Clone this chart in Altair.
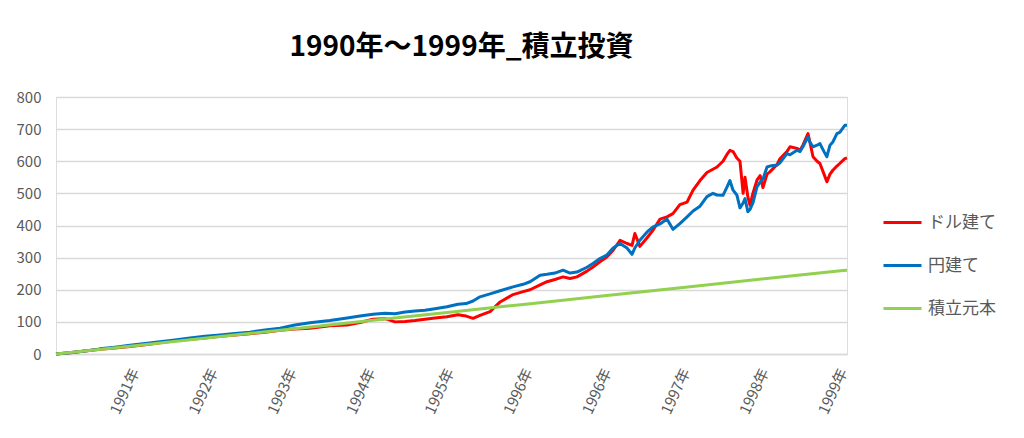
import altair as alt
import pandas as pd

FONT = "Noto Sans CJK JP"

# trading-day index of each sample
days = [0, 44, 92, 140, 187, 235, 283, 330, 378, 426, 473, 521, 569, 616, 664, 712,
        759, 807, 870, 925, 966, 1007, 1045, 1077, 1109, 1141, 1172, 1204, 1242, 1277,
        1303, 1325, 1347, 1379, 1411, 1452, 1484, 1506, 1538, 1560, 1585, 1611, 1633,
        1655, 1687, 1706, 1728, 1750, 1770, 1792, 1814, 1830, 1839, 1855, 1878, 1897,
        1919, 1941, 1960, 1982, 2005, 2024, 2046, 2068, 2087, 2100, 2119, 2132, 2141,
        2151, 2163, 2173, 2183, 2189, 2198, 2205, 2214, 2227, 2237, 2246, 2259, 2268,
        2291, 2300, 2322, 2332, 2354, 2364, 2373, 2389, 2395, 2405, 2418, 2427, 2440,
        2449, 2459, 2468, 2481, 2490, 2506, 2513]

dollar = [0, 4, 9, 15, 19, 23, 29, 35, 41, 46, 50, 55, 59, 63, 68, 74,
          78, 80, 88, 90, 98, 108, 110, 100, 101, 104, 108, 112, 116, 122,
          118, 111, 120, 132, 162, 185, 194, 200, 215, 225, 232, 240, 235,
          240, 258, 271, 287, 302, 323, 354, 344, 338, 375, 335, 362, 386,
          420, 427, 437, 465, 473, 510, 540, 565, 575, 582, 600, 622, 634,
          630, 610, 600, 500, 550, 489, 463, 500, 541, 555, 518, 560, 567,
          590, 608, 630, 645, 640, 634, 650, 686, 660, 614, 600, 593, 560,
          536, 560, 572, 585, 593, 608, 610]

yen = [0, 4, 9, 16, 21, 27, 33, 38, 44, 50, 55, 59, 64, 68, 75, 80,
       90, 97, 104, 112, 118, 124, 127, 125, 131, 134, 136, 141, 147, 155,
       157, 165, 178, 187, 197, 209, 217, 225, 245, 248, 252, 261, 252,
       255, 270, 282, 297, 308, 330, 344, 330, 310, 330, 354, 380, 396,
       405, 420, 388, 406, 427, 445, 460, 490, 500, 495, 494, 520, 540,
       510, 495, 455, 470, 484, 443, 450, 470, 520, 535, 545, 582, 585,
       588, 595, 624, 620, 634, 630, 645, 676, 660, 645, 650, 655, 630,
       614, 650, 660, 686, 690, 712, 712]

principal_days = [0, 250, 500, 750, 1000, 1250, 1500, 1750, 2000, 2250, 2500, 2513]
principal = [0, 26, 52, 78, 104, 130, 156, 182, 208, 234, 260, 261]

tick_days = [250, 500, 750, 1000, 1250, 1500, 1750, 2000, 2250, 2500]
tick_labels = ["1991年", "1992年", "1993年", "1994年", "1995年",
               "1996年", "1996年", "1997年", "1998年", "1999年"]

y_ticks = [0, 100, 200, 300, 400, 500, 600, 700, 800]

series_names = ["ドル建て", "円建て", "積立元本"]
series_colors = ["#FF0000", "#0070C0", "#92D050"]

df = pd.concat([
    pd.DataFrame({"day": days, "value": dollar, "series": series_names[0], "ord": 0}),
    pd.DataFrame({"day": days, "value": yen, "series": series_names[1], "ord": 1}),
    pd.DataFrame({"day": principal_days, "value": principal, "series": series_names[2], "ord": 2}),
], ignore_index=True)

label_array = "[" + ",".join("'" + s + "'" for s in tick_labels) + "]"
label_expr = label_array + "[round(datum.value / 250) - 1]"

chart = alt.Chart(df).mark_line(strokeWidth=3, strokeJoin="round").encode(
    x=alt.X("day:Q",
            scale=alt.Scale(domain=[0, 2513], nice=False, zero=False),
            axis=alt.Axis(values=tick_days, labelExpr=label_expr, labelAngle=295,
                          labelAlign="right", labelBaseline="middle", labelPadding=15,
                          labelFontSize=15, labelColor="#595959", labelFont=FONT,
                          grid=False, ticks=False, tickSize=0, domainColor="#d9d9d9",
                          domainWidth=1.3, title=None)),
    y=alt.Y("value:Q",
            scale=alt.Scale(domain=[0, 800], nice=False),
            axis=alt.Axis(values=y_ticks, grid=True, gridColor="#d9d9d9", gridWidth=1.3,
                          domain=False, ticks=False, tickSize=0, labelPadding=15,
                          labelFontSize=15, labelColor="#595959", labelFont=FONT,
                          title=None)),
    color=alt.Color("series:N",
                    scale=alt.Scale(domain=series_names, range=series_colors),
                    legend=alt.Legend(orient="none", legendX=826, legendY=105,
                                      title=None, symbolType="stroke",
                                      symbolStrokeWidth=3, symbolSize=1444,
                                      labelFontSize=17, labelColor="#595959",
                                      labelFont=FONT, labelOffset=5, rowPadding=14)),
    order=alt.Order("ord:Q"),
).properties(
    width=791,
    height=257,
    padding={"left": 48, "top": 89, "right": 169, "bottom": 76},
    autosize=alt.AutoSizeParams(type="none"),
    title=alt.TitleParams("1990年～1999年_積立投資", font=FONT, fontSize=28,
                          fontWeight="bold", color="#000000", offset=28, dx=10),
).configure_view(stroke=None).configure(background="white")

chart.save("out.html", embed_options={"renderer": "svg", "actions": False})
